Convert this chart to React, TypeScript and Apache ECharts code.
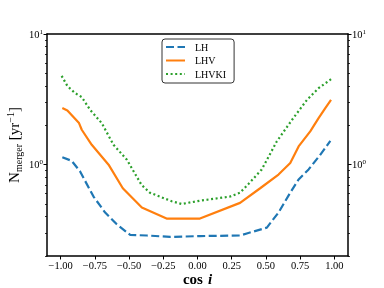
import { useEffect, useRef } from 'react';
import * as echarts from 'echarts';

const lhX = [-0.988, -0.92, -0.859, -0.76, -0.675, -0.59, -0.492, -0.37, -0.2, 0.018, 0.311, 0.372, 0.507, 0.592, 0.678, 0.739, 0.812, 0.897, 0.971];
const lhY = [1.14, 1.07, 0.89, 0.57, 0.43, 0.35, 0.29, 0.287, 0.28, 0.284, 0.287, 0.3, 0.33, 0.43, 0.61, 0.77, 0.92, 1.19, 1.52];

const lhvX = [-0.988, -0.951, -0.866, -0.846, -0.773, -0.65, -0.546, -0.407, -0.226, 0.018, 0.311, 0.458, 0.592, 0.678, 0.739, 0.824, 0.885, 0.934, 0.976];
const lhvY = [2.71, 2.6, 2.08, 1.85, 1.42, 1.0, 0.66, 0.47, 0.387, 0.387, 0.51, 0.66, 0.84, 1.03, 1.38, 1.8, 2.27, 2.71, 3.13];

const lhvkiX = [-0.993, -0.951, -0.895, -0.846, -0.785, -0.7, -0.614, -0.516, -0.409, -0.348, -0.189, -0.116, 0.018, 0.238, 0.311, 0.372, 0.47, 0.58, 0.7, 0.8, 0.885, 0.976];
const lhvkiY = [4.78, 4.0, 3.53, 3.29, 2.63, 2.08, 1.42, 1.09, 0.7, 0.61, 0.525, 0.5, 0.53, 0.57, 0.61, 0.71, 0.92, 1.51, 2.27, 3.13, 3.85, 4.51];

const xTicks = [-1, -0.75, -0.5, -0.25, 0, 0.25, 0.5, 0.75, 1];
const yMajor = [1, 10];
const yMinor = [0.2, 0.3, 0.4, 0.5, 0.6, 0.7, 0.8, 0.9, 2, 3, 4, 5, 6, 7, 8, 9];
const yMin = 0.2;
const yMax = 10;

const FONT = '"Liberation Serif", "DejaVu Serif", serif';

export default function App() {
  const ref = useRef<HTMLDivElement>(null);
  useEffect(() => {
    const chart = echarts.init(ref.current!, null, { renderer: 'svg' });
    const L = (v: number) => Math.log10(v);
    const lo = L(yMin);
    const hi = L(yMax);
    const toData = (xs: number[], ys: number[]) => xs.map((x, i) => [x, L(ys[i])]);
    const majorLog = yMajor.map(L);
    const minorLog = yMinor.map(L);
    const supFmt = (v: number) => `10{sup|${Math.round(v)}}`;
    const rich = {
      sup: { fontSize: 7, fontFamily: FONT, color: '#000', verticalAlign: 'top', lineHeight: 12 },
    };
    const baseY = (position: string) => ({
      type: 'value',
      position,
      min: lo,
      max: hi,
      splitLine: { show: false },
    });
    const majorTick = { show: true, customValues: majorLog, length: 3.5, lineStyle: { color: '#000', width: 1 } };
    const minorTick = { show: true, customValues: minorLog, length: 2, lineStyle: { color: '#000', width: 0.8 } };
    const yLabel = { show: true, customValues: majorLog, margin: 4, fontSize: 10.5, color: '#000', fontFamily: FONT, formatter: supFmt, rich };
    chart.setOption({
      animation: false,
      textStyle: { fontFamily: FONT },
      grid: { left: 47, right: 36, top: 34, bottom: 32, containLabel: false, outerBoundsMode: 'none' },
      legend: {
        orient: 'vertical',
        left: 162,
        top: 39,
        padding: [3, 8, 4, 3],
        itemWidth: 19,
        itemHeight: 10,
        itemGap: 3.5,
        backgroundColor: '#fff',
        borderColor: '#333',
        borderWidth: 1,
        borderRadius: 3,
        itemStyle: { opacity: 0 },
        textStyle: { fontFamily: FONT, fontSize: 10, color: '#000', lineHeight: 10, padding: [0, 0, 0, 5] },
        data: ['LH', 'LHV', 'LHVKI'],
      },
      xAxis: [
        {
          type: 'value',
          min: -1.1,
          max: 1.1,
          position: 'bottom',
          name: 'cos{i|i}',
          nameLocation: 'middle',
          nameGap: 15,
          nameMoveOverlap: false,
          nameTextStyle: {
            fontFamily: FONT, fontSize: 15, fontWeight: 'bold', color: '#000', lineHeight: 15,
            rich: { i: { fontFamily: FONT, fontSize: 15, fontStyle: 'italic', fontWeight: 'bold', color: '#000', lineHeight: 15, padding: [0, 0, 0, 5] } },
          },
          axisLine: { onZero: false, lineStyle: { color: '#000', width: 1.5 } },
          axisTick: { show: true, customValues: xTicks, length: 3.5, lineStyle: { color: '#000', width: 1 } },
          axisLabel: {
            customValues: xTicks,
            margin: 4,
            fontFamily: FONT,
            fontSize: 10.5,
            color: '#000',
            formatter: (v: number) => (v < 0 ? '\u2212' : '') + Math.abs(v).toFixed(2),
          },
          splitLine: { show: false },
        },
        {
          type: 'value',
          min: -1.1,
          max: 1.1,
          position: 'top',
          axisLine: { onZero: false, lineStyle: { color: '#000', width: 1.5 } },
          axisTick: { show: false },
          axisLabel: { show: false },
          splitLine: { show: false },
        },
      ],
      yAxis: [
        {
          ...baseY('left'),
          name: 'N{sub|merger} [yr{sup|\u22121}]',
          nameLocation: 'middle',
          nameGap: 24,
          nameRotate: 90,
          nameMoveOverlap: false,
          nameTextStyle: {
            fontFamily: FONT, fontSize: 15, color: '#000', lineHeight: 18,
            rich: {
              sub: { fontFamily: FONT, fontSize: 10, color: '#000', verticalAlign: 'bottom', lineHeight: 18 },
              sup: { fontFamily: FONT, fontSize: 10, color: '#000', verticalAlign: 'top', lineHeight: 18 },
            },
          },
          axisLine: { show: true, onZero: false, lineStyle: { color: '#000', width: 1.5 } },
          axisTick: majorTick,
          axisLabel: yLabel,
        },
        {
          ...baseY('left'),
          axisLine: { show: false, onZero: false },
          axisTick: minorTick,
          axisLabel: { show: false },
        },
        {
          ...baseY('right'),
          axisLine: { show: true, onZero: false, lineStyle: { color: '#000', width: 1.5 } },
          axisTick: majorTick,
          axisLabel: yLabel,
        },
        {
          ...baseY('right'),
          axisLine: { show: false, onZero: false },
          axisTick: minorTick,
          axisLabel: { show: false },
        },
      ],
      series: [
        {
          name: 'LH', type: 'line', showSymbol: false, symbol: 'none',
          data: toData(lhX, lhY),
          lineStyle: { color: '#1f77b4', width: 2.2, type: [8, 3.5] },
          itemStyle: { color: '#1f77b4' },
        },
        {
          name: 'LHV', type: 'line', showSymbol: false, symbol: 'none',
          data: toData(lhvX, lhvY),
          lineStyle: { color: '#ff7f0e', width: 2.2, type: 'solid' },
          itemStyle: { color: '#ff7f0e' },
        },
        {
          name: 'LHVKI', type: 'line', showSymbol: false, symbol: 'none',
          data: toData(lhvkiX, lhvkiY),
          lineStyle: { color: '#2ca02c', width: 2.2, type: [2, 2.6] },
          itemStyle: { color: '#2ca02c' },
        },
      ],
    });
    return () => chart.dispose();
  }, []);
  return <div ref={ref} style={{ position: 'fixed', left: 0, top: 0, width: 384, height: 288 }} />;
}
